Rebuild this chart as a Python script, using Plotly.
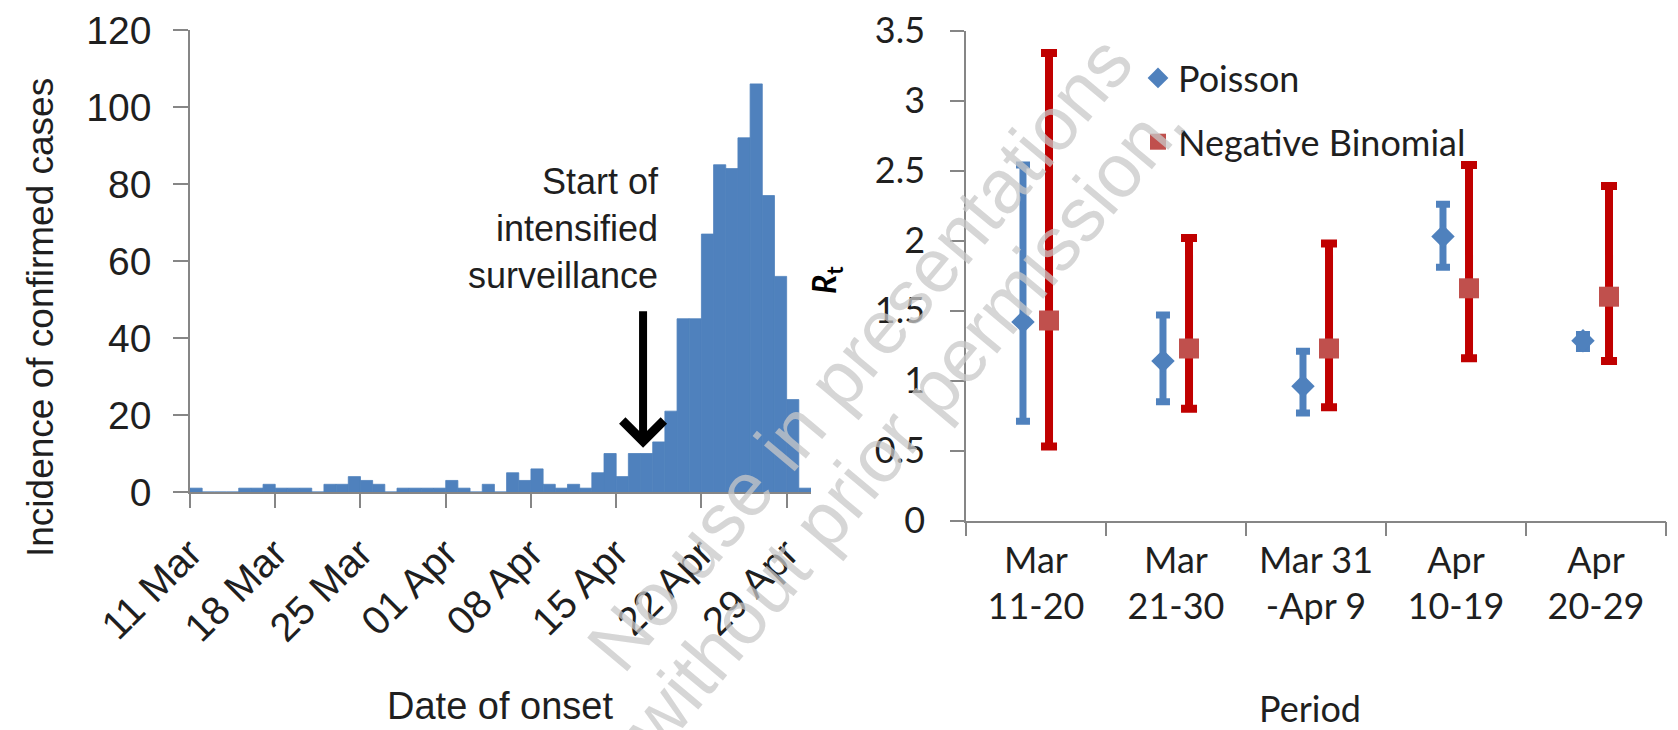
import pandas as pd
import plotly.graph_objects as go

# ---------------- data ----------------
start_date = "2013-03-11"
daily_counts = [1, 0, 0, 0, 1, 1, 2, 1, 1, 1,
                0, 2, 2, 4, 3, 2, 0, 1, 1, 1,
                1, 3, 1, 0, 2, 0, 5, 3, 6, 2,
                1, 2, 1, 5, 10, 4, 10, 10, 13, 21,
                45, 45, 67, 85, 84, 92, 106, 77, 56, 24,
                1]
tick_dates = ["2013-03-11", "2013-03-18", "2013-03-25", "2013-04-01",
              "2013-04-08", "2013-04-15", "2013-04-22", "2013-04-29"]

periods = ["Mar<br>11-20", "Mar<br>21-30", "Mar 31<br>-Apr 9", "Apr<br>10-19", "Apr<br>20-29"]
poisson_rt = [1.42, 1.14, 0.96, 2.03, 1.285]
poisson_lo = [0.71, 0.85, 0.77, 1.81, 1.23]
poisson_hi = [2.54, 1.47, 1.21, 2.26, 1.33]
nb_rt = [1.43, 1.23, 1.23, 1.66, 1.60]
nb_lo = [0.53, 0.80, 0.81, 1.16, 1.14]
nb_hi = [3.34, 2.02, 1.98, 2.54, 2.39]

# ---------------- styles ----------------
BLUE = "#4F81BD"
RED_BAR = "#C00000"
RED_MK = "#C0504D"
AXIS = "#868686"
TXT = "#1f1f1f"
LEFT_FONT = "Liberation Sans, Arial, sans-serif"
RIGHT_FONT = "Lato, Carlito, Calibri, sans-serif"
W, H = 1678, 730

dates = pd.date_range(start_date, periods=len(daily_counts), freq="D")
centers = dates + pd.Timedelta(hours=12)
day_ms = 86400000

fig = go.Figure()
fig.add_trace(go.Bar(x=centers, y=daily_counts, width=day_ms,
                     marker=dict(color=BLUE, line=dict(width=0.8, color=BLUE)),
                     xaxis="x", yaxis="y", showlegend=False))

fig.add_trace(go.Scatter(
    x=periods, y=poisson_rt, mode="markers", name="Poisson",
    offsetgroup="p", legendgroup="p",
    marker=dict(symbol="diamond", size=18, color=BLUE),
    error_y=dict(type="data", symmetric=False,
                 array=[h - r for h, r in zip(poisson_hi, poisson_rt)],
                 arrayminus=[r - l for r, l in zip(poisson_rt, poisson_lo)],
                 color=BLUE, thickness=7, width=7),
    xaxis="x2", yaxis="y2"))
fig.add_trace(go.Scatter(
    x=periods, y=nb_rt, mode="markers", name="Negative Binomial",
    offsetgroup="nb", legendgroup="nb",
    marker=dict(symbol="square", size=20, color=RED_MK),
    error_y=dict(type="data", symmetric=False,
                 array=[h - r for h, r in zip(nb_hi, nb_rt)],
                 arrayminus=[r - l for r, l in zip(nb_rt, nb_lo)],
                 color=RED_BAR, thickness=8, width=8),
    xaxis="x2", yaxis="y2"))

def px_x(v):
    return v / W

def px_y(v):
    return 1 - v / H

axis_common = dict(showline=True, linecolor=AXIS, linewidth=1.5, showgrid=False,
                   zeroline=False, ticks="outside", tickcolor=AXIS, tickwidth=1.5,
                   automargin=False)

def label(text, x, y, size, family, **kw):
    d = dict(text=text, xref="paper", yref="paper", x=px_x(x), y=px_y(y),
             xanchor="center", yanchor="middle", showarrow=False,
             font=dict(family=family, size=size, color=kw.pop("color", TXT)))
    d.update(kw)
    return d

WM = "rgba(200,200,200,0.75)"

fig.update_layout(
    width=W, height=H, margin=dict(l=0, r=0, t=0, b=0, autoexpand=False),
    paper_bgcolor="white", plot_bgcolor="white",
    scattermode="group", scattergap=0.628,
    xaxis=dict(domain=[px_x(190), px_x(811)], anchor="y", type="date",
               range=[start_date, "2013-05-01"], tickvals=tick_dates,
               tickformat="%d %b", tickangle=-45, ticklen=14, ticklabelstandoff=6,
               tickfont=dict(family=LEFT_FONT, size=40, color=TXT), **axis_common),
    yaxis=dict(domain=[px_y(492), px_y(30)], anchor="x", range=[0, 120], dtick=20,
               ticklen=15, ticklabelstandoff=14,
               tickfont=dict(family=LEFT_FONT, size=39, color=TXT), **axis_common),
    xaxis2=dict(domain=[px_x(966), px_x(1666)], anchor="y2", type="category",
                range=[-0.5, 4.5], tickson="boundaries", ticklen=14, ticklabelstandoff=7,
                tickfont=dict(family=RIGHT_FONT, size=36, color=TXT), **axis_common),
    yaxis2=dict(domain=[px_y(520.7), px_y(30.7)], anchor="x2", range=[0, 3.5], dtick=0.5,
                ticklen=14, ticklabelstandoff=18,
                tickfont=dict(family=RIGHT_FONT, size=36, color=TXT), **axis_common),
    legend=dict(x=px_x(1138), y=px_y(48), xanchor="left", yanchor="top",
                font=dict(family=RIGHT_FONT, size=36, color=TXT),
                bgcolor="rgba(0,0,0,0)", traceorder="grouped", tracegroupgap=14),
    annotations=[
        label("Start of<br>intensified<br>surveillance", 661, 228, 36, LEFT_FONT,
              xanchor="right", align="right"),
        dict(text="", xref="x", yref="y", x="2013-04-17 05:00", y=11.5, ax=0, ay=-138,
             showarrow=True, arrowhead=4, arrowwidth=8, arrowsize=1.0, arrowcolor="black"),
        label("Incidence of confirmed cases", 40, 318, 37, LEFT_FONT, textangle=-90),
        label("Date of onset", 500, 706, 38, LEFT_FONT),
        label("Period", 1310, 708, 36, RIGHT_FONT),
        label("<b><i>R</i></b><sub><b>t</b></sub>", 826, 280, 32, RIGHT_FONT,
              textangle=-90, color="black"),
        label("No use in presentations", 859, 353, 76, LEFT_FONT, textangle=-50, color=WM),
        label("without prior permission.", 904, 424, 76, LEFT_FONT, textangle=-50, color=WM),
    ],
)

fig.write_html("out.html", config={"displayModeBar": False},
               post_script="document.body.style.margin='0';")
